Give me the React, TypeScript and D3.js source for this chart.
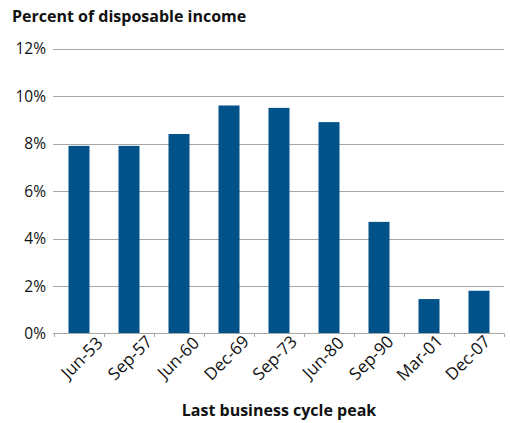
import React from "react";
import * as d3 from "d3";

const categories = ["Jun-53", "Sep-57", "Jun-60", "Dec-69", "Sep-73", "Jun-80", "Sep-90", "Mar-01", "Dec-07"];
const values = [7.9, 7.9, 8.4, 9.6, 9.5, 8.9, 4.7, 1.45, 1.8];
const yTicks = [0, 2, 4, 6, 8, 10, 12];
const yTitle = "Percent of disposable income";
const xTitle = "Last business cycle peak";

const W = 510;
const H = 423;
const FONT = "'Open Sans', 'Noto Sans', sans-serif";

export default function App() {
  const x = d3.scaleBand<string>().domain(categories).range([54, 504]).paddingInner(0.58).paddingOuter(0.29);
  const xLabel = d3.scalePoint<string>().domain(categories).range([86, 472]);
  const y = d3.scaleLinear().domain([0, 12]).range([333.5, 48.5]);
  const bw = x.bandwidth();
  const step = x.step();
  const boundaries = categories.map((c) => (x(c) as number) - (step - bw) / 2).concat([504]);

  return (
    <svg width={W} height={H} style={{ position: "absolute", left: 0, top: 0 }} fontFamily={FONT}>
      <rect width={W} height={H} fill="#fff" />
      <text x={12} y={22} fontSize={16} fontWeight="bold" fill="#111">{yTitle}</text>
      {yTicks.map((t) => (
        <g key={t}>
          {t > 0 && <line x1={53} x2={504} y1={Math.round(y(t)) + 0.5} y2={Math.round(y(t)) + 0.5} stroke="#a6a6a6" strokeWidth={1} />}
          <text x={46} y={y(t) + 5.5} textAnchor="end" fontSize={15.5} fill="#111">{t}%</text>
        </g>
      ))}
      {categories.map((c, i) => (
        <rect key={c} x={x(c)} y={y(values[i])} width={bw} height={y(0) - y(values[i])} fill="#02528a" />
      ))}
      <line x1={53} x2={504} y1={333.5} y2={333.5} stroke="#a6a6a6" strokeWidth={1} />
      {boundaries.map((b, i) => (
        <line key={i} x1={Math.round(b) + 0.5} x2={Math.round(b) + 0.5} y1={333.5} y2={337} stroke="#a6a6a6" strokeWidth={1} />
      ))}
      {categories.map((c) => (
        <text key={c} transform={`translate(${xLabel(c)},362) rotate(-45)`} textAnchor="middle" fontSize={17} fill="#111">{c}</text>
      ))}
      <text x={279} y={416} textAnchor="middle" fontSize={16} fontWeight="bold" fill="#111">{xTitle}</text>
    </svg>
  );
}
